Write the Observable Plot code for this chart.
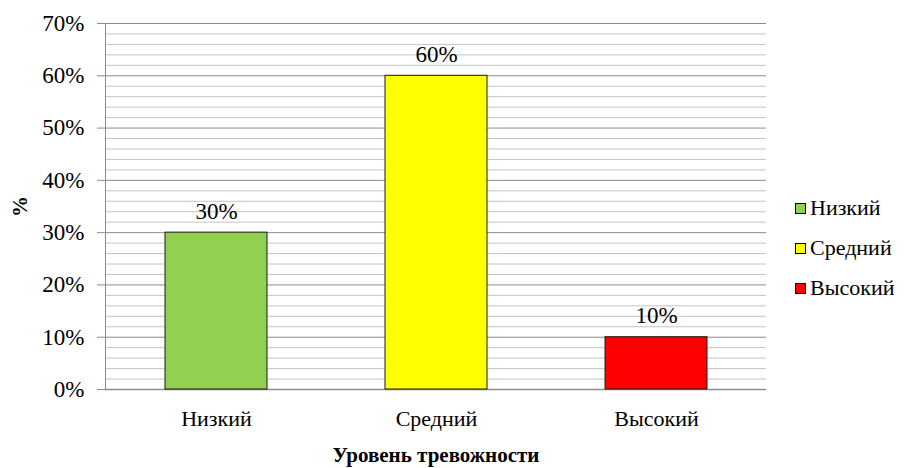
<!DOCTYPE html>
<html>
<head>
<meta charset="utf-8">
<script src="https://cdn.jsdelivr.net/npm/d3@7"></script>
<script src="https://cdn.jsdelivr.net/npm/@observablehq/plot@0.6"></script>
<style>
  html, body { margin: 0; padding: 0; background: #fff; }
  #wrap { position: relative; width: 907px; height: 468px; font-family: 'Liberation Serif', 'Times New Roman', Tinos, 'Noto Serif', 'DejaVu Serif', FreeSerif, 'Nimbus Roman', serif; }
  #wrap svg text { font-family: 'Liberation Serif', 'Times New Roman', Tinos, 'Noto Serif', 'DejaVu Serif', FreeSerif, 'Nimbus Roman', serif; }
  #legend { position: absolute; left: 795px; top: 188px; font-size: 22px; color: #000; }
  #legend .item { display: flex; align-items: center; height: 40px; }
  #legend .sw { width: 11px; height: 11px; border: 1px solid #000; box-sizing: border-box; margin-right: 4px; }
</style>
</head>
<body>
<div id="wrap"></div>
<script>
// Anxiety level categories and their shares
const levels = ["Низкий", "Средний", "Высокий"];
const shares = [0.30, 0.60, 0.10];
const colors = ["#92d050", "#ffff00", "#ff0000"];
const majorTicks = [0, 0.1, 0.2, 0.3, 0.4, 0.5, 0.6, 0.7];
const minorTicks = d3.range(0, 0.7001, 0.02).filter(v => Math.abs(v * 10 - Math.round(v * 10)) > 1e-6);

const data = levels.map((level, i) => ({level, share: shares[i], color: colors[i]}));
const serif = "'Liberation Serif', 'Times New Roman', Tinos, 'Noto Serif', 'DejaVu Serif', FreeSerif, 'Nimbus Roman', serif";

const chart = Plot.plot({
  width: 907,
  height: 468,
  marginLeft: 105,
  marginRight: 141,
  marginTop: 23,
  marginBottom: 79,
  style: {fontFamily: serif, color: "#000", background: "#fff"},
  x: {domain: levels, paddingInner: 0.537, paddingOuter: 0.2685, label: null},
  y: {domain: [0, 0.7], label: null},
  marks: [
    Plot.ruleY(minorTicks, {stroke: "#c4c4c4", strokeWidth: 1}),
    Plot.ruleY(majorTicks, {stroke: "#8c8c8c", strokeWidth: 1}),
    Plot.axisY({
      ticks: majorTicks,
      tickFormat: d => Math.round(d * 100) + "%",
      tickSize: 8,
      tickPadding: 13,
      stroke: "#8c8c8c",
      fontSize: 23,
      label: "%",
      labelAnchor: "center",
      labelArrow: "none",
      labelOffset: 93
    }),
    Plot.axisX({
      tickSize: 0,
      tickPadding: 21,
      fontSize: 22,
      label: "Уровень тревожности",
      labelAnchor: "center",
      labelArrow: "none",
      labelOffset: 72
    }),
    Plot.frame({anchor: "left", stroke: "#8c8c8c"}),
    Plot.ruleY([0], {stroke: "#8c8c8c", strokeWidth: 1.5}),
    Plot.barY(data, {x: "level", y: "share", fill: "color", stroke: "#1a1a1a", strokeWidth: 1}),
    Plot.text(data, {
      x: "level", y: "share",
      text: d => Math.round(d.share * 100) + "%",
      fontSize: 23, lineAnchor: "bottom", dy: -14, fill: "#000"
    })
  ]
});

// Bold axis titles
d3.select(chart).selectAll("g[aria-label='y-axis label'] text, g[aria-label='x-axis label'] text")
  .style("font-weight", "bold").style("font-size", "21px");

const wrap = document.getElementById("wrap");
wrap.appendChild(chart);

// Legend
const legend = document.createElement("div");
legend.id = "legend";
levels.forEach((level, i) => {
  const item = document.createElement("div");
  item.className = "item";
  const sw = document.createElement("span");
  sw.className = "sw";
  sw.style.background = colors[i];
  const label = document.createElement("span");
  label.textContent = level;
  item.appendChild(sw);
  item.appendChild(label);
  legend.appendChild(item);
});
wrap.appendChild(legend);
</script>
</body>
</html>
